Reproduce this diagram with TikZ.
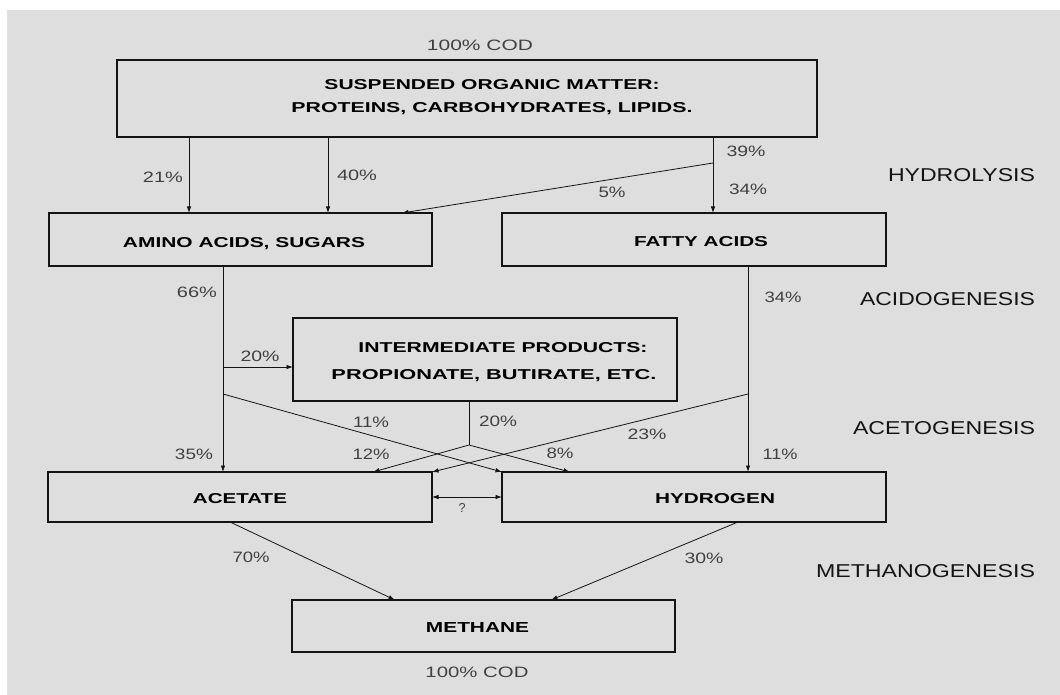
\documentclass[tikz,border=0pt]{standalone}
\usepackage{fontspec}
\setmainfont{Liberation Sans}
\usepackage{graphicx}
\usetikzlibrary{arrows.meta,calc}
\definecolor{bg}{HTML}{DEDEDE}
\definecolor{pcol}{HTML}{404040}
\definecolor{ink}{HTML}{141414}
\newcommand{\fitt}[3]{\resizebox{#1pt}{#2pt}{#3}}
\begin{document}
\begin{tikzpicture}[x=1pt,y=-1pt,
  box/.style={draw=ink, line width=2.6pt, inner sep=0pt, outer sep=0pt},
  arr/.style={draw=ink, line width=0.8pt, -{Latex[length=6.5pt,width=4.5pt]}},
  ln/.style={draw=ink, line width=0.8pt},
  dbl/.style={draw=ink, line width=0.8pt, {Latex[length=6.5pt,width=4.5pt]}-{Latex[length=6.5pt,width=4.5pt]}},
  btxt/.style={anchor=base, inner sep=0pt, text=black, font=\bfseries},
  stxt/.style={anchor=base, inner sep=0pt, text=ink},
  pct/.style={anchor=base, inner sep=0pt, text=pcol}]
\useasboundingbox (0,0) rectangle (1060,695);
\fill[white] (0,0) rectangle (1060,695);
\fill[bg] (7,10) rectangle (1060,695);

% boxes
\node[box, minimum width=700pt, minimum height=77pt] (top) at (467,98.5) {};
\node[box, minimum width=383pt, minimum height=53pt] (amino) at (240.5,239.5) {};
\node[box, minimum width=384pt, minimum height=53pt] (fatty) at (694,239.5) {};
\node[box, minimum width=384pt, minimum height=83pt] (inter) at (485,359.5) {};
\node[box, minimum width=384pt, minimum height=50pt] (acetate) at (240,497) {};
\node[box, minimum width=384pt, minimum height=50pt] (hydrogen) at (694,497) {};
\node[box, minimum width=383pt, minimum height=52pt] (methane) at (483.5,626) {};

% box texts
\node[btxt] (tS1) at (492,90) {\fitt{335}{10}{SUSPENDED ORGANIC MATTER:}};
\node[btxt] (tS2) at (492,113) {\fitt{401}{10}{PROTEINS, CARBOHYDRATES, LIPIDS.}};
\node[btxt] (tA) at (244,247) {\fitt{242}{10}{AMINO ACIDS, SUGARS}};
\node[btxt] (tF) at (701,246) {\fitt{134}{10}{FATTY ACIDS}};
\node[btxt] (tI1) at (503,352) {\fitt{289}{10}{INTERMEDIATE PRODUCTS:}};
\node[btxt] (tI2) at (494,379) {\fitt{325}{10}{PROPIONATE, BUTIRATE, ETC.}};
\node[btxt] (tAc) at (240,503) {\fitt{94}{10}{ACETATE}};
\node[btxt] (tH) at (715,503) {\fitt{120}{10}{HYDROGEN}};
\node[btxt] (tM) at (477.5,632) {\fitt{103}{10}{METHANE}};

% stage labels
\node[stxt] (sH) at (961.5,181.5) {\fitt{147}{13}{HYDROLYSIS}};
\node[stxt] (sAc) at (947.5,305.5) {\fitt{175}{13}{ACIDOGENESIS}};
\node[stxt] (sAt) at (944,434.5) {\fitt{182}{13}{ACETOGENESIS}};
\node[stxt] (sM) at (925.5,577.5) {\fitt{219}{13}{METHANOGENESIS}};

% COD labels
\node[pct] (codT) at (480,50.25) {\fitt{106}{10.5}{100\% COD}};
\node[pct] (codB) at (477,677.25) {\fitt{103}{10.5}{100\% COD}};

% column coordinates
\coordinate (c1) at (189,0);
\coordinate (c2) at (328,0);
\coordinate (c3) at (713,0);
\coordinate (c4) at (223,0);
\coordinate (c5) at (748,0);
\coordinate (c6) at (469,0);
\coordinate (t5) at (402,0);
\coordinate (t12) at (373,0);
\coordinate (t8) at (570,0);
\coordinate (s70) at (230,0);
\coordinate (m70) at (395,0);
\coordinate (s30) at (738,0);
\coordinate (m30) at (551,0);
% junctions
\coordinate (j5) at (713,163);
\coordinate (j20) at (223,367);
\coordinate (j11) at (223,394);
\coordinate (jmid) at (469,445);
\coordinate (j23) at (748,394);

% hydrolysis
\draw[arr] (top.south -| c1) -- (amino.north -| c1);
\draw[arr] (top.south -| c2) -- (amino.north -| c2);
\draw[arr] (top.south -| c3) -- (fatty.north -| c3);
\draw[arr] (j5) -- (amino.north -| t5);

% acidogenesis / acetogenesis
\draw[arr] (amino.south -| c4) -- (acetate.north -| c4);
\draw[arr] (j20) -- (inter.west |- j20);
\draw[arr] (j11) -- (hydrogen.north west);
\draw[ln] (inter.south -| c6) -- (jmid);
\draw[arr] (jmid) -- (acetate.north -| t12);
\draw[arr] (jmid) -- (hydrogen.north -| t8);
\draw[arr] (fatty.south -| c5) -- (hydrogen.north -| c5);
\draw[arr] (j23) -- (acetate.north east);
\draw[dbl] (acetate.east) -- (hydrogen.west);

% methanogenesis
\draw[arr] (acetate.south -| s70) -- (methane.north -| m70);
\draw[arr] (hydrogen.south -| s30) -- (methane.north -| m30);

% percent labels
\node[pct] (p21) at (163,182.25) {\fitt{40}{10.5}{21\%}};
\node[pct] (p40) at (357,180.25) {\fitt{40}{10.5}{40\%}};
\node[pct] (p39) at (746,156.25) {\fitt{39}{10.5}{39\%}};
\node[pct] (p5) at (612,197.25) {\fitt{27}{10.5}{5\%}};
\node[pct] (p34a) at (748,194.25) {\fitt{38}{10.5}{34\%}};
\node[pct] (p66) at (197,297.25) {\fitt{40}{10.5}{66\%}};
\node[pct] (p34b) at (783,302.25) {\fitt{37}{10.5}{34\%}};
\node[pct] (p20a) at (260,361.25) {\fitt{39}{10.5}{20\%}};
\node[pct] (p11a) at (371,427.25) {\fitt{36}{10.5}{11\%}};
\node[pct] (p20b) at (498,426.25) {\fitt{38}{10.5}{20\%}};
\node[pct] (p23) at (647,439.25) {\fitt{39}{10.5}{23\%}};
\node[pct] (p35) at (194,459.25) {\fitt{38}{10.5}{35\%}};
\node[pct] (p12) at (371,459.25) {\fitt{37}{10.5}{12\%}};
\node[pct] (p8) at (560,458.25) {\fitt{27}{10.5}{8\%}};
\node[pct] (p11b) at (780,459.25) {\fitt{35}{10.5}{11\%}};
\node[pct] (p70) at (251,562.25) {\fitt{37}{10.5}{70\%}};
\node[pct] (p30) at (704,563.25) {\fitt{39}{10.5}{30\%}};
\node[pct] (pq) at (462,512.5) {\fitt{7}{9}{?}};
\end{tikzpicture}
\end{document}
